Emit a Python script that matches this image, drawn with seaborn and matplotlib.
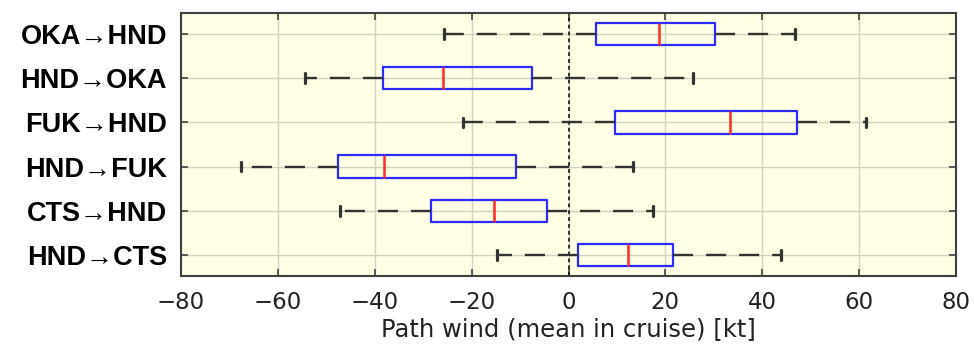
import numpy as np
import pandas as pd
import matplotlib
matplotlib.use("Agg")
import matplotlib.pyplot as plt
import seaborn as sns

# ---- data ----
routes = ["OKA→HND", "HND→OKA", "FUK→HND", "HND→FUK", "CTS→HND", "HND→CTS"]
whisker_low = [-25.8, -54.5, -21.8, -67.6, -47.1, -14.8]
q1 = [5.6, -38.3, 9.7, -47.6, -28.3, 1.9]
median = [18.6, -25.9, 33.4, -38.0, -15.4, 12.2]
q3 = [30.2, -7.5, 47.2, -10.8, -4.4, 21.5]
whisker_high = [46.7, 25.7, 61.5, 13.3, 17.4, 43.9]
xticks = [-80, -60, -40, -20, 0, 20, 40, 60, 80]
xlabel = "Path wind (mean in cruise) [kt]"

# five summary values per route -> quartiles reproduce exactly
rows = []
for r, a, b, c, d, e in zip(routes, whisker_low, q1, median, q3, whisker_high):
    for v in (a, b, c, d, e):
        rows.append({"route": r, "wind": v})
df = pd.DataFrame(rows)

sns.set_theme(style="white")
plt.rcParams["font.family"] = ["DejaVu Sans"]

fig = plt.figure(figsize=(9.75, 3.54), dpi=100)
ax = fig.add_axes([181 / 975, 1 - 276 / 354, (956 - 181) / 975, (276 - 13) / 354])
ax.set_facecolor("#FEFEE4")

sns.boxplot(
    data=df, x="wind", y="route", order=routes, orient="h",
    whis=(0, 100), width=0.51, fill=False, color="#2B2BFF",
    boxprops=dict(color="#2B2BFF", linewidth=1.6),
    medianprops=dict(color="#FF2A2A", linewidth=1.8),
    whiskerprops=dict(color="#333333", linewidth=1.7, linestyle=(0, (8.5, 5.5))),
    capprops=dict(color="#333333", linewidth=2.3),
    showfliers=False,
    ax=ax,
)

# make the caps a little taller (half-height in category units)
cap_half = 0.11
for cont in ax.containers:
    caps = getattr(cont, "caps", None)
    if caps is None:
        continue
    for cap in caps:
        yd = np.asarray(cap.get_ydata(), dtype=float)
        c = yd.mean()
        cap.set_ydata([c - cap_half, c + cap_half])

ax.xaxis.grid(True, color="#D2D2C2", linewidth=1.0)
ax.yaxis.grid(True, color="#D2D2C2", linewidth=1.0)
ax.set_axisbelow(True)

ax.axvline(0, color="black", linewidth=1.1, linestyle=(0, (2.5, 2)), zorder=1.5)

ax.set_xlim(-80, 80)
ax.set_ylim(len(routes) - 1 + 0.475, -0.475)
ax.set_xticks(xticks)
ax.set_xticklabels([f"{t}".replace("-", "\u2212") for t in xticks])

ax.tick_params(axis="both", which="both", direction="in", length=5, width=1.2,
               colors="#444444", top=True, right=True, bottom=True, left=True)
ax.tick_params(axis="x", labelsize=16.5, labelcolor="#222222", pad=11)
ax.tick_params(axis="y", labelsize=19.5, labelcolor="black", pad=10)
for lab in ax.get_yticklabels():
    lab.set_fontweight("bold")
    lab.set_family(["Liberation Sans", "DejaVu Sans"])

ax.set_xlabel(xlabel, fontsize=17.5, color="#222222", labelpad=2)
ax.set_ylabel("")

for s in ax.spines.values():
    s.set_visible(True)
    s.set_color("#404040")
    s.set_linewidth(1.5)

fig.savefig("out.png", dpi=100)
